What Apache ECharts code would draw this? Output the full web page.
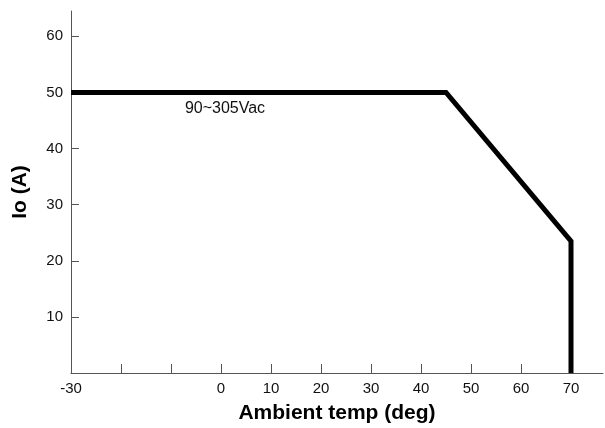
<!DOCTYPE html>
<html>
<head>
<meta charset="utf-8">
<script src="https://cdn.jsdelivr.net/npm/echarts@6/dist/echarts.min.js"></script>
<style>
  html, body { margin: 0; padding: 0; background: #fff; }
  #chart { width: 605px; height: 428px; }
</style>
</head>
<body>
<div id="chart"></div>
<script>
// derating curve points
var tempX = [-30, 45, 70, 70];
var currentY = [50, 50, 23.5, 0];
var noteText = '90~305Vac';
var hiddenXLabels = [-20, -10];

var pts = [];
for (var i = 0; i < tempX.length; i++) {
  pts.push([tempX[i], currentY[i]]);
}

var myChart = echarts.init(document.getElementById('chart'));

var option = {
  backgroundColor: '#fff',
  animation: false,
  grid: { left: 71, top: 11, right: 2, bottom: 55, outerBoundsMode: 'none', containLabel: false },
  xAxis: {
    type: 'value',
    min: -30,
    max: 76.4,
    interval: 10,
    name: 'Ambient temp (deg)',
    nameLocation: 'middle',
    nameGap: 30,
    nameTextStyle: { fontFamily: 'Liberation Sans', fontWeight: 'bold', fontSize: 21, color: '#000' },
    splitLine: { show: false },
    axisLine: { onZero: false, lineStyle: { color: '#555', width: 1 } },
    axisTick: { inside: true, length: 9, lineStyle: { color: '#555' } },
    axisLabel: {
      showMaxLabel: false,
      margin: 8,
      fontFamily: 'Liberation Sans',
      fontSize: 15,
      color: '#111',
      formatter: function (v) {
        if (hiddenXLabels.indexOf(v) >= 0) return '';
        return v;
      }
    }
  },
  yAxis: {
    type: 'value',
    min: 0,
    max: 64.5,
    interval: 10,
    name: 'Io (A)',
    nameLocation: 'middle',
    nameGap: 40,
    nameTextStyle: { fontFamily: 'Liberation Sans', fontWeight: 'bold', fontSize: 21, color: '#000' },
    splitLine: { show: false },
    axisLine: { show: true, onZero: false, lineStyle: { color: '#555', width: 1 } },
    axisTick: { show: true, inside: true, length: 8, lineStyle: { color: '#555' } },
    axisLabel: {
      showMaxLabel: false,
      margin: 8,
      fontFamily: 'Liberation Sans',
      fontSize: 15,
      color: '#111',
      formatter: function (v) {
        return v === 0 ? '' : v;
      }
    }
  },
  series: [{
    type: 'line',
    data: pts,
    symbol: 'none',
    lineStyle: { color: '#000', width: 5, join: 'miter' },
    markPoint: {
      symbol: 'circle',
      symbolSize: 0,
      data: [{ coord: [0.8, 47.2] }],
      label: {
        show: true,
        position: 'inside',
        formatter: noteText,
        fontFamily: 'Liberation Sans',
        fontSize: 16,
        color: '#111'
      }
    }
  }]
};

myChart.setOption(option);
</script>
</body>
</html>
